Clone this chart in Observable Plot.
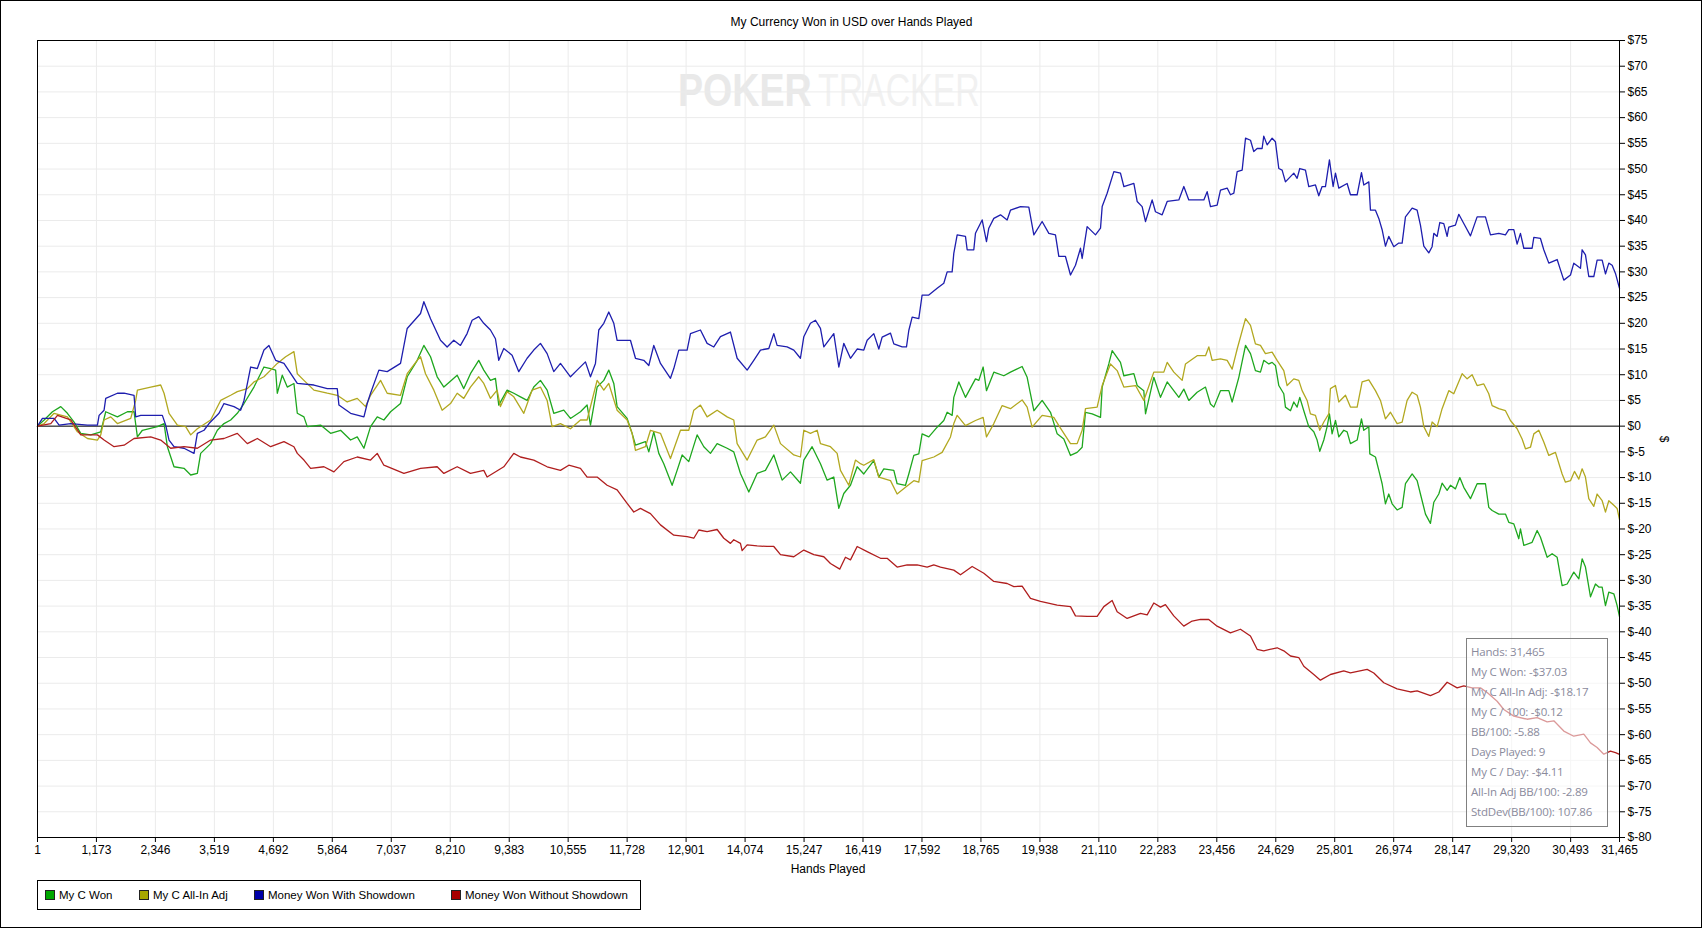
<!DOCTYPE html>
<html>
<head>
<meta charset="utf-8">
<script src="https://cdn.jsdelivr.net/npm/d3@7"></script>
<script src="https://cdn.jsdelivr.net/npm/@observablehq/plot@0.6"></script>
<style>
html, body { margin: 0; padding: 0; background: #fff; }
#wrap { position: relative; width: 1703px; height: 929px; overflow: hidden; font-family: "Liberation Sans", Arial, sans-serif; color: #000; }
#border { position: absolute; left: 0; top: 0; width: 1702px; height: 928px; box-sizing: border-box; border: 1px solid #000; pointer-events: none; }
#title { position: absolute; left: 0; width: 1703px; top: 15px; text-align: center; font-size: 12px; }
#watermark { position: absolute; left: 0; top: 0; }
#chart { position: absolute; left: 0; top: 0; }
#xlabel { position: absolute; left: 37px; width: 1582px; top: 862px; text-align: center; font-size: 12px; }
#ylabel { position: absolute; left: 1661px; top: 432px; font-size: 12px; transform: rotate(90deg); transform-origin: center; }
#legend { position: absolute; left: 37px; top: 880px; width: 604px; height: 30px; box-sizing: border-box; border: 1px solid #000; font-size: 11.5px; }
.item { position: absolute; top: 8px; white-space: nowrap; line-height: 13px; }
.sw { display: inline-block; width: 8px; height: 8px; border: 1px solid #222; vertical-align: -1px; margin-right: 4px; }
#tip { position: absolute; left: 1466px; top: 638px; width: 142px; height: 189px; box-sizing: border-box; border: 1px solid #808080; background: rgba(255,255,255,0.55); font-family: "Open Sans", "Noto Sans", sans-serif; font-size: 11.5px; color: #8a8a9c; padding: 3px 0 0 4px; }
#tip div { height: 20px; line-height: 20px; white-space: nowrap; letter-spacing: -0.2px; }
</style>
</head>
<body>
<div id="wrap">
  <svg id="watermark" width="1703" height="140">
    <g transform="translate(678,106) scale(0.8,1)">
      <text x="0" y="0" font-family="Liberation Sans, Arial" font-weight="bold" font-size="47" fill="#e9e9e9">POKER</text>
    </g>
    <g transform="translate(818,106) scale(0.72,1)">
      <text x="0" y="0" font-family="Liberation Sans, Arial" font-size="47" fill="#f1f1f1">TRACKER</text>
    </g>
  </svg>
  <div id="chart"></div>
  <div id="title">My Currency Won in USD over Hands Played</div>
  <div id="xlabel">Hands Played</div>
  <div id="ylabel">$</div>
  <div id="legend"></div>
  <div id="tip"></div>
  <div id="border"></div>
</div>
<script>
// ---- Data (hand, dollars) ----
const seriesNames = ["My C Won", "My C All-In Adj", "Money Won With Showdown", "Money Won Without Showdown"];

const myCWon = [
[1,0],[133,1.2],[298,2.8],[464,3.8],[596,2.5],[729,0.8],[861,-1.4],[1060,-1.7],[1259,-1.1],[1358,2.8],[1590,1.8],[1789,2.8],[1921,2.8],[1988,-2.1],[2087,-0.8],[2385,-0.1],[2518,0.5],[2584,-4],[2716,-7.9],[2915,-8.2],[3048,-9.5],[3180,-9.2],[3246,-5.3],[3445,-3.4],[3578,-0.8],[3710,0.5],[3843,1.2],[3975,2.5],[4108,4.4],[4306,7.6],[4505,11.5],[4638,11.2],[4737,10.9],[4770,6.4],[4869,9.9],[4969,7.6],[5101,8.3],[5168,2.5],[5300,1.8],[5366,-0.1],[5631,0.2],[5830,-1.4],[6029,-0.8],[6228,-2.7],[6360,-2.1],[6493,-4.3],[6625,-0.1],[6758,1.8],[6890,1.2],[7023,2.8],[7221,4.4],[7354,9.6],[7553,12.8],[7685,15.7],[7818,13.5],[7950,9.6],[8083,7.6],[8348,9.9],
[8479,7.3],[8612,10.2],[8777,12.8],[8877,10.9],[9010,8.9],[9109,9.3],[9175,4.1],[9341,7],[9474,6.4],[9606,5.7],[9739,5],[9871,7.6],[10004,8.9],[10137,7],[10269,2.5],[10468,3.1],[10601,1.5],[10800,2.8],[10932,4.1],[10999,0.2],[11131,7.6],[11264,8.9],[11363,10.9],[11463,8.3],[11529,3.8],[11728,1.5],[11827,-1.4],[11894,-3.7],[12092,-3],[12159,-5],[12258,-1.1],[12358,-5.3],[12457,-7.3],[12623,-11.5],[12722,-8.6],[12822,-5.6],[12954,-6.9],[13120,-1.7],[13253,-4],[13385,-5.3],[13518,-3.4],[13717,-4.3],[13849,-5],[13982,-9.2],[14148,-12.8],[14314,-9.2],[14479,-8.6],[14645,-5.6],[14811,-10.5],[14977,-8.9],[15175,-11.1],[15242,-6.6],[15407,-4],[15573,-7.3],[15706,-10.5],[15838,-9.9],[15938,-16],[16037,-13.1],[16170,-11.5],[16303,-7.9],
[16435,-9.3],[16634,-6.7],[16734,-9.9],[16833,-8.3],[17032,-8.6],[17098,-11.2],[17264,-11.5],[17330,-9.3],[17430,-5.7],[17529,-5.4],[17595,-1.5],[17728,-2.1],[17894,-0.2],[18026,1.1],[18093,2.7],[18192,2.1],[18225,5.6],[18325,8.6],[18457,5.6],[18656,9.2],[18723,8.9],[18809,11.5],[18875,6.9],[19021,10.5],[19220,9.8],[19352,10.5],[19584,11.6],[19684,9.5],[19817,3.0],[19982,5],[20148,2.7],[20281,-1.5],[20413,-2.5],[20546,-5.7],[20678,-5.1],[20778,-4.1],[20844,2.7],[20977,2.4],[21143,1.7],[21176,7.6],[21308,12.1],[21375,14.7],[21540,12.4],[21607,9.8],[21806,10.2],[21872,7.9],[22004,6.9],[22038,2.4],[22203,9.5],[22336,5.6],[22469,8.6],[22701,5.6],[22800,7.2],[22899,5],[23065,6.6],[23231,7.6],[23330,4.3],[23397,3.7],[23529,6.9],[23695,6.9],[23761,4.7],[23894,9.5],[24027,15.7],[24126,14.1],
[24224,10.8],[24324,10.5],[24390,12.8],[24490,12.1],[24556,12.4],[24622,11.8],[24689,7.9],[24788,6.3],[24821,3.7],[24921,3.0],[24987,4.7],[25053,3.7],[25106,5.6],[25186,3.0],[25285,-0.1],[25385,-1.1],[25451,-2.7],[25504,-4.9],[25584,-2.7],[25650,-0.1],[25696,2.4],[25749,-1.5],[25816,1.1],[25882,-2.1],[25981,-0.8],[26048,-1.1],[26114,-3.4],[26247,-2.7],[26333,1.4],[26379,-0.8],[26479,-0.1],[26499,-5.4],[26611,-6.0],[26678,-8.6],[26744,-11.2],[26810,-15.1],[26876,-13.2],[26943,-15.1],[27042,-16.3],[27142,-15.8],[27208,-11.2],[27341,-9.3],[27440,-10.6],[27506,-13.2],[27606,-17.1],[27705,-18.9],[27772,-14.8],[27871,-13.2],[27937,-11.1],[28037,-12.5],[28103,-11.5],[28202,-12.2],[28289,-10.0],[28368,-11.9],[28501,-14.1],[28633,-11.2],[28799,-11.2],[28865,-15.8],[28932,-16.4],[29064,-17.1],[29197,-17.1],[29263,-18.7],[29363,-19],[29462,-21.9],[29495,-20],[29562,-23.2],[29727,-22.6],[29827,-20.3],[29893,-21.6],[30026,-25.5],[30125,-24.8],[30225,-25.5],[30324,-31],[30424,-30.7],[30556,-28.4],[30656,-29.7],[30722,-25.8],[30788,-27.4],[30888,-33.2],[30987,-30.7],[31053,-31.3],[31120,-31.3],[31186,-34.9],[31252,-32.3],[31352,-32.6],[31418,-34.9],[31465,-37.03]
];

const myCAllInAdj = [
[1,0],[133,0.5],[331,2.5],[596,1.8],[795,-1.1],[994,-2.4],[1193,-2.7],[1259,-1.7],[1325,1.2],[1458,1.8],[1590,0.5],[1855,1.5],[1954,5],[1988,7],[2253,7.6],[2451,8],[2518,6.4],[2617,2.5],[2783,0.2],[2948,-0.1],[3048,-1.7],[3180,-0.5],[3445,1.2],[3644,5],[3843,6],[3975,6.7],[4174,7.3],[4306,8.6],[4505,9.6],[4638,10.9],[4770,12.2],[4936,13.5],[5101,14.5],[5168,10.2],[5300,8.9],[5499,7],[5764,6.4],[5963,6],[6161,4.7],[6360,5.4],[6526,3.8],[6625,6],[6824,8.9],[6956,6.4],[7221,6],[7354,10.2],[7553,12.8],[7619,13.5],[7718,10.2],[7884,7],[8049,3.1],[8215,4.4],[8348,6.4],
[8479,5.4],[8612,7.6],[8777,9.6],[8877,8.3],[9010,5.4],[9142,7],[9208,3.8],[9341,6.7],[9474,5.7],[9673,2.5],[9838,7],[10004,7.6],[10137,5],[10236,-0.1],[10402,0.5],[10601,-0.5],[10800,1.2],[10932,1.2],[11131,8.9],[11264,7],[11363,8.3],[11529,3.1],[11728,1.2],[11827,-1.4],[11894,-4.7],[12092,-4],[12192,-0.8],[12391,-1.4],[12590,-6.3],[12789,-0.8],[12954,-0.8],[13054,3.1],[13186,4.1],[13319,1.8],[13518,3.1],[13717,1.8],[13849,1.2],[13916,-3.4],[14115,-6.6],[14314,-2.7],[14479,-2.1],[14645,0.2],[14778,-3.4],[15043,-5.6],[15175,-6],[15242,-0.8],[15374,-1.4],[15507,-0.8],[15573,-3.4],[15772,-4],[15905,-5.3],[15971,-8.6],[16137,-11.5],[16269,-6.6],[16369,-7.3],
[16435,-7.6],[16634,-6.5],[16734,-9.9],[16966,-10.6],[17098,-13.2],[17264,-11.9],[17430,-10.6],[17529,-10.9],[17595,-6.7],[17828,-6.0],[17993,-5.1],[18159,-2.1],[18225,0.5],[18292,2.1],[18457,0.1],[18656,1.1],[18809,1.7],[18875,-2.1],[19021,0.5],[19187,4],[19352,3.4],[19584,5.1],[19684,3.7],[19783,-0.2],[19982,2.1],[20214,1.7],[20314,0.1],[20546,-3.4],[20678,-3.4],[20778,-0.8],[20844,3.4],[21076,3.7],[21176,7.9],[21341,12.1],[21474,10.8],[21607,7.6],[21839,7.9],[22004,5],[22203,10.5],[22402,10.5],[22469,12.4],[22601,10.5],[22767,8.9],[22833,12.1],[23065,13.7],[23231,13.7],[23297,15.4],[23364,12.8],[23529,13.1],[23662,12.8],[23761,11.1],[23861,15],[24027,20.9],[24126,19.6],
[24224,16],[24324,15.7],[24423,14.1],[24556,14.4],[24655,12.8],[24788,10.8],[24854,7.9],[24987,9.2],[25086,8.9],[25153,6.9],[25252,5],[25318,2.4],[25418,2.1],[25504,-0.8],[25584,0.8],[25683,2.4],[25716,7.3],[25816,7.9],[25882,4.7],[26015,6],[26114,3.7],[26247,3.7],[26346,8.6],[26479,9.0],[26611,6.9],[26711,5],[26810,1.4],[26910,2.7],[27042,0.5],[27142,0.8],[27241,5],[27341,6.6],[27440,6],[27506,3.7],[27573,-0.1],[27672,-2.0],[27738,0.8],[27838,-0.1],[27937,3.4],[28070,6.9],[28169,6.3],[28335,10.2],[28435,9.2],[28534,10.0],[28633,7.9],[28766,8.2],[28865,6.3],[28932,4],[29064,3.4],[29197,3.0],[29296,1.1],[29429,-0.5],[29528,-2.5],[29595,-4.4],[29694,-4.1],[29761,-1.5],[29860,-0.8],[29959,-3.1],[30059,-5.7],[30191,-5.1],[30324,-9.3],[30390,-10.9],[30490,-10.6],[30569,-8.8],[30656,-10.3],[30722,-8.3],[30788,-9.9],[30854,-14.1],[30954,-15.6],[31020,-13.2],[31120,-14.5],[31186,-16.7],[31252,-14.5],[31352,-15.4],[31418,-16],[31465,-18.17]
];

const wonWithShowdown = [
[1,0],[99,1.5],[331,1.5],[431,0.2],[663,0.5],[994,0.2],[1193,0.2],[1226,2.1],[1325,3.1],[1358,5.4],[1590,6.4],[1723,6.4],[1921,6],[1954,1.8],[2054,2.1],[2484,2.1],[2551,0.2],[2617,-2.7],[2716,-4],[2915,-4.3],[3114,-5.3],[3180,-1.4],[3313,-0.8],[3412,0.5],[3611,2.5],[3710,4.4],[3909,3.8],[4041,3.1],[4108,5],[4240,11.5],[4373,11.2],[4505,14.8],[4604,15.7],[4737,12.8],[4903,12.2],[5168,8.3],[5499,8],[5764,7.3],[5963,7.3],[5996,4.1],[6228,2.5],[6493,1.8],[6559,4.4],[6625,6.4],[6791,10.9],[6956,10.6],[7221,12.2],[7354,19],[7619,21.9],[7685,24.2],[7818,20.9],[8016,16.7],[8148,15.4],
[8280,16.7],[8413,15.7],[8545,18],[8645,20.6],[8777,21.3],[8877,20],[9010,18.7],[9109,17],[9175,12.8],[9275,15.1],[9440,13.8],[9573,10.6],[9739,13.2],[9871,14.8],[10004,16.1],[10137,14.1],[10269,10.6],[10402,12.2],[10601,9.6],[10733,10.9],[10899,12.5],[10999,9.6],[11098,12.2],[11164,18.7],[11264,20],[11363,22.2],[11463,20],[11529,16.7],[11794,16.7],[11894,13.2],[12059,12.8],[12159,11.8],[12258,15.7],[12391,12.2],[12590,9.3],[12656,11.2],[12755,14.8],[12921,14.8],[12988,18],[13186,18.7],[13319,16.1],[13452,15.4],[13584,17.4],[13783,18.3],[13916,13.2],[14115,10.9],[14247,12.8],[14380,14.8],[14546,15.1],[14645,18],[14711,15.7],[14910,15.4],[15043,14.8],[15175,13.2],[15242,17.4],[15374,20],[15474,20.6],[15573,19],[15640,15.4],[15838,18],[15938,11.5],[16037,16.1],[16170,13.2],
[16303,15.0],[16435,14.8],[16502,16.7],[16634,18],[16734,15],[16800,17.3],[16966,18.1],[17032,16],[17198,15.4],[17284,15.4],[17330,18.6],[17397,21.2],[17529,20.9],[17595,25.5],[17728,25.5],[17894,26.8],[18026,27.8],[18093,30],[18192,30],[18225,33.6],[18292,37.2],[18457,36.9],[18491,34.3],[18623,34.3],[18656,37.5],[18789,40.1],[18875,35.9],[18921,38.5],[19021,40.4],[19154,41.1],[19286,40.1],[19352,42],[19551,42.7],[19717,42.6],[19817,37.2],[19982,39.8],[20115,37.5],[20247,37.2],[20314,33],[20446,33],[20546,29.4],[20645,31.3],[20745,34.6],[20778,32.6],[20877,38.8],[21043,37.2],[21143,38.5],[21176,42.7],[21275,45.3],[21408,49.5],[21540,49.2],[21607,46.6],[21806,47.2],[21872,43.7],[21971,42.7],[22038,39.8],[22170,44],[22236,41.7],[22369,41.1],[22469,43.7],[22701,44],[22800,46.6],[22899,44],[23198,44],[23264,45.6],[23330,42.7],[23463,43],[23529,45.9],[23662,46.3],[23728,45],[23795,45.3],[23861,49.5],[23960,49.8],[24027,56],[24126,55.6],
[24191,53.4],[24258,54],[24357,54],[24390,56.4],[24457,54.7],[24556,56],[24622,55.3],[24689,50.1],[24755,49.8],[24821,47.5],[24987,49.2],[25053,48.2],[25106,50.1],[25219,49.8],[25285,46.6],[25418,46.9],[25484,44.8],[25550,46.6],[25617,46.6],[25696,51.8],[25769,46.6],[25816,49.2],[25882,46.3],[26048,47.2],[26114,45],[26247,45],[26333,49.3],[26379,46.9],[26479,47.5],[26512,42],[26611,42],[26678,40.4],[26744,38.2],[26810,35],[26876,36.9],[26976,34.9],[27075,35.6],[27142,35.6],[27208,40.7],[27341,42.4],[27440,42],[27506,39.1],[27573,35],[27672,33.7],[27738,34.9],[27772,37.5],[27838,36.9],[27891,39.6],[27970,39.4],[28037,36.9],[28070,38.7],[28202,39.1],[28269,41.2],[28368,39.4],[28501,37],[28633,40.7],[28799,40.7],[28899,37.2],[29064,37.5],[29197,37.2],[29263,38.2],[29363,38.2],[29429,35.4],[29495,37.5],[29562,34.6],[29727,34.6],[29761,36.7],[29893,36.5],[29959,34.3],[30059,31.7],[30225,32.4],[30291,30.4],[30357,28.4],[30490,29.4],[30556,31.7],[30689,30.7],[30722,34.3],[30788,33.3],[30854,29.1],[30954,29.1],[31020,32.3],[31120,32.3],[31186,29.6],[31252,31.7],[31319,31.3],[31385,29.7],[31465,26.8]
];

const wonWithoutShowdown = [
[1,0],[265,0.5],[398,2.1],[663,1.2],[861,-1.7],[1193,-1.7],[1325,-2.7],[1524,-4],[1723,-3.7],[1921,-2.4],[2253,-2.1],[2451,-2.7],[2650,-4.3],[2915,-4],[3180,-4.3],[3445,-2.7],[3710,-2.4],[3975,-1.4],[4174,-3.4],[4373,-2.4],[4638,-4],[4903,-3],[5101,-4],[5168,-5.3],[5300,-6.6],[5433,-8.2],[5698,-7.9],[5896,-8.9],[6095,-6.9],[6360,-6],[6625,-6.6],[6758,-5.3],[6890,-7.6],[7288,-9.2],[7619,-8.2],[7950,-7.9],[8083,-9.2],[8348,-7.9],
[8612,-9.2],[8877,-8.6],[8943,-9.9],[9275,-7.9],[9474,-5.3],[9606,-6],[9871,-6.6],[10137,-7.9],[10402,-8.6],[10568,-7.6],[10800,-8.2],[10932,-9.9],[11131,-9.9],[11330,-11.5],[11529,-12.4],[11728,-15],[11860,-16.7],[11993,-16],
[12192,-17],[12391,-19.2],[12656,-21.2],[12921,-21.5],[13054,-21.8],[13153,-20.2],[13319,-20.5],[13518,-20.1],[13651,-21.8],[13783,-22.8],[13849,-22.1],[13982,-22.8],[14015,-24.2],[14115,-23.1],[14314,-23.3],[14512,-23.4],[14645,-23.4],[14778,-25],[15043,-25.4],[15242,-24.1],[15441,-25],[15640,-25.4],[15772,-26.7],[15958,-27.8],[16070,-25.5],[16170,-26],[16303,-23.4],[16501,-24.4],[16767,-25.7],[16899,-25.7],[17098,-27.4],[17297,-27],[17496,-27],[17695,-27.4],[17827,-27],[17960,-27.4],[18225,-28],[18358,-28.9],[18590,-27.3],[18822,-28.6],[19021,-30.2],[19286,-30.6],[19419,-31.2],[19584,-31.1],[19750,-33.5],[19949,-34.1],[20281,-34.8],[20546,-35.1],[20645,-36.9],[20877,-37],[21076,-37],[21209,-35.1],[21374,-33.9],[21474,-36.1],[21673,-37.4],[21938,-36.4],[22071,-36.7],[22203,-34.4],[22336,-35.2],
[22434,-34.7],[22600,-36.9],[22799,-38.9],[22965,-37.9],[23131,-37.6],[23296,-37.6],[23462,-38.9],[23727,-40.2],[23926,-39.5],[24125,-40.8],[24258,-43.4],[24390,-43.7],[24655,-43.1],[24788,-43.7],[24921,-44.7],[25086,-45],[25186,-46.7],[25385,-48.3],[25517,-49.4],[25716,-48.3],[25981,-47.6],[26114,-48],[26446,-47.3],[26578,-48],[26777,-49.9],[27042,-51.1],[27307,-51.7],[27440,-51.5],[27705,-52.4],[27871,-51.7],[28037,-49.8],[28236,-50.9],[28368,-50.5],[28534,-50.9],[28700,-50.9],[28833,-51.8],[29031,-53.5],[29164,-55.1],[29363,-56.4],[29628,-57],[29827,-56.7],[30026,-57.5],[30159,-57.3],[30357,-59.3],[30556,-60.3],[30755,-59.9],[30888,-61.6],[31020,-62.5],[31153,-63.8],[31285,-63.2],[31385,-63.5],[31465,-63.83]
];

const xTickValues = [1,1173,2346,3519,4692,5864,7037,8210,9383,10555,11728,12901,14074,15247,16419,17592,18765,19938,21110,22283,23456,24629,25801,26974,28147,29320,30493,31465];
const yTickValues = d3.range(-80, 76, 5);

const tooltipLines = ["Hands: 31,465","My C Won: -$37.03","My C All-In Adj: -$18.17","My C / 100: -$0.12","BB/100: -5.88","Days Played: 9","My C / Day: -$4.11","All-In Adj BB/100: -2.89","StdDev(BB/100): 107.86"];

// ---- Styling ----
const colors = ["#1ea71e", "#b2a820", "#1e1eae", "#b01e1e"];
const swatch = ["#00a800", "#a8a800", "#0000a8", "#a80000"];

const allSeries = [myCWon, myCAllInAdj, wonWithShowdown, wonWithoutShowdown];
const rows = allSeries.flatMap((s, i) => s.map(([h, v]) => ({hand: h, value: v, series: seriesNames[i]})));

const chart = Plot.plot({
  width: 1703,
  height: 880,
  marginLeft: 37,
  marginRight: 84,
  marginTop: 40,
  marginBottom: 43,
  style: {background: "transparent", fontFamily: "Liberation Sans, Arial, sans-serif", fontSize: "12px", color: "#000"},
  x: {domain: [1, 31465]},
  y: {domain: [-80, 75]},
  color: {domain: seriesNames, range: colors},
  marks: [
    Plot.gridX(xTickValues, {stroke: "#ebebeb", strokeOpacity: 1, strokeWidth: 1}),
    Plot.gridY(yTickValues, {stroke: "#ebebeb", strokeOpacity: 1, strokeWidth: 1}),
    Plot.ruleY([0], {stroke: "#000", strokeWidth: 1}),
    Plot.line(rows, {x: "hand", y: "value", z: "series", stroke: "series", strokeWidth: 1.3, strokeLinejoin: "round"}),
    Plot.frame({stroke: "#000", strokeWidth: 1}),
    Plot.axisX(xTickValues, {tickSize: 5, tickPadding: 3, tickFormat: d3.format(","), label: null, fontSize: 12}),
    Plot.axisY(yTickValues, {anchor: "right", tickSize: 5, tickPadding: 3, tickFormat: d => "$" + d, label: null, fontSize: 12})
  ]
});
document.getElementById("chart").appendChild(chart);

// Legend
const legendX = [7, 101, 216, 413];
const legend = document.getElementById("legend");
seriesNames.forEach((name, i) => {
  const el = document.createElement("div");
  el.className = "item";
  el.style.left = legendX[i] + "px";
  el.innerHTML = `<span class="sw" style="background:${swatch[i]}"></span>${name}`;
  legend.appendChild(el);
});

// Tooltip box
const tip = document.getElementById("tip");
tooltipLines.forEach(t => { const d = document.createElement("div"); d.textContent = t; tip.appendChild(d); });
</script>
</body>
</html>
